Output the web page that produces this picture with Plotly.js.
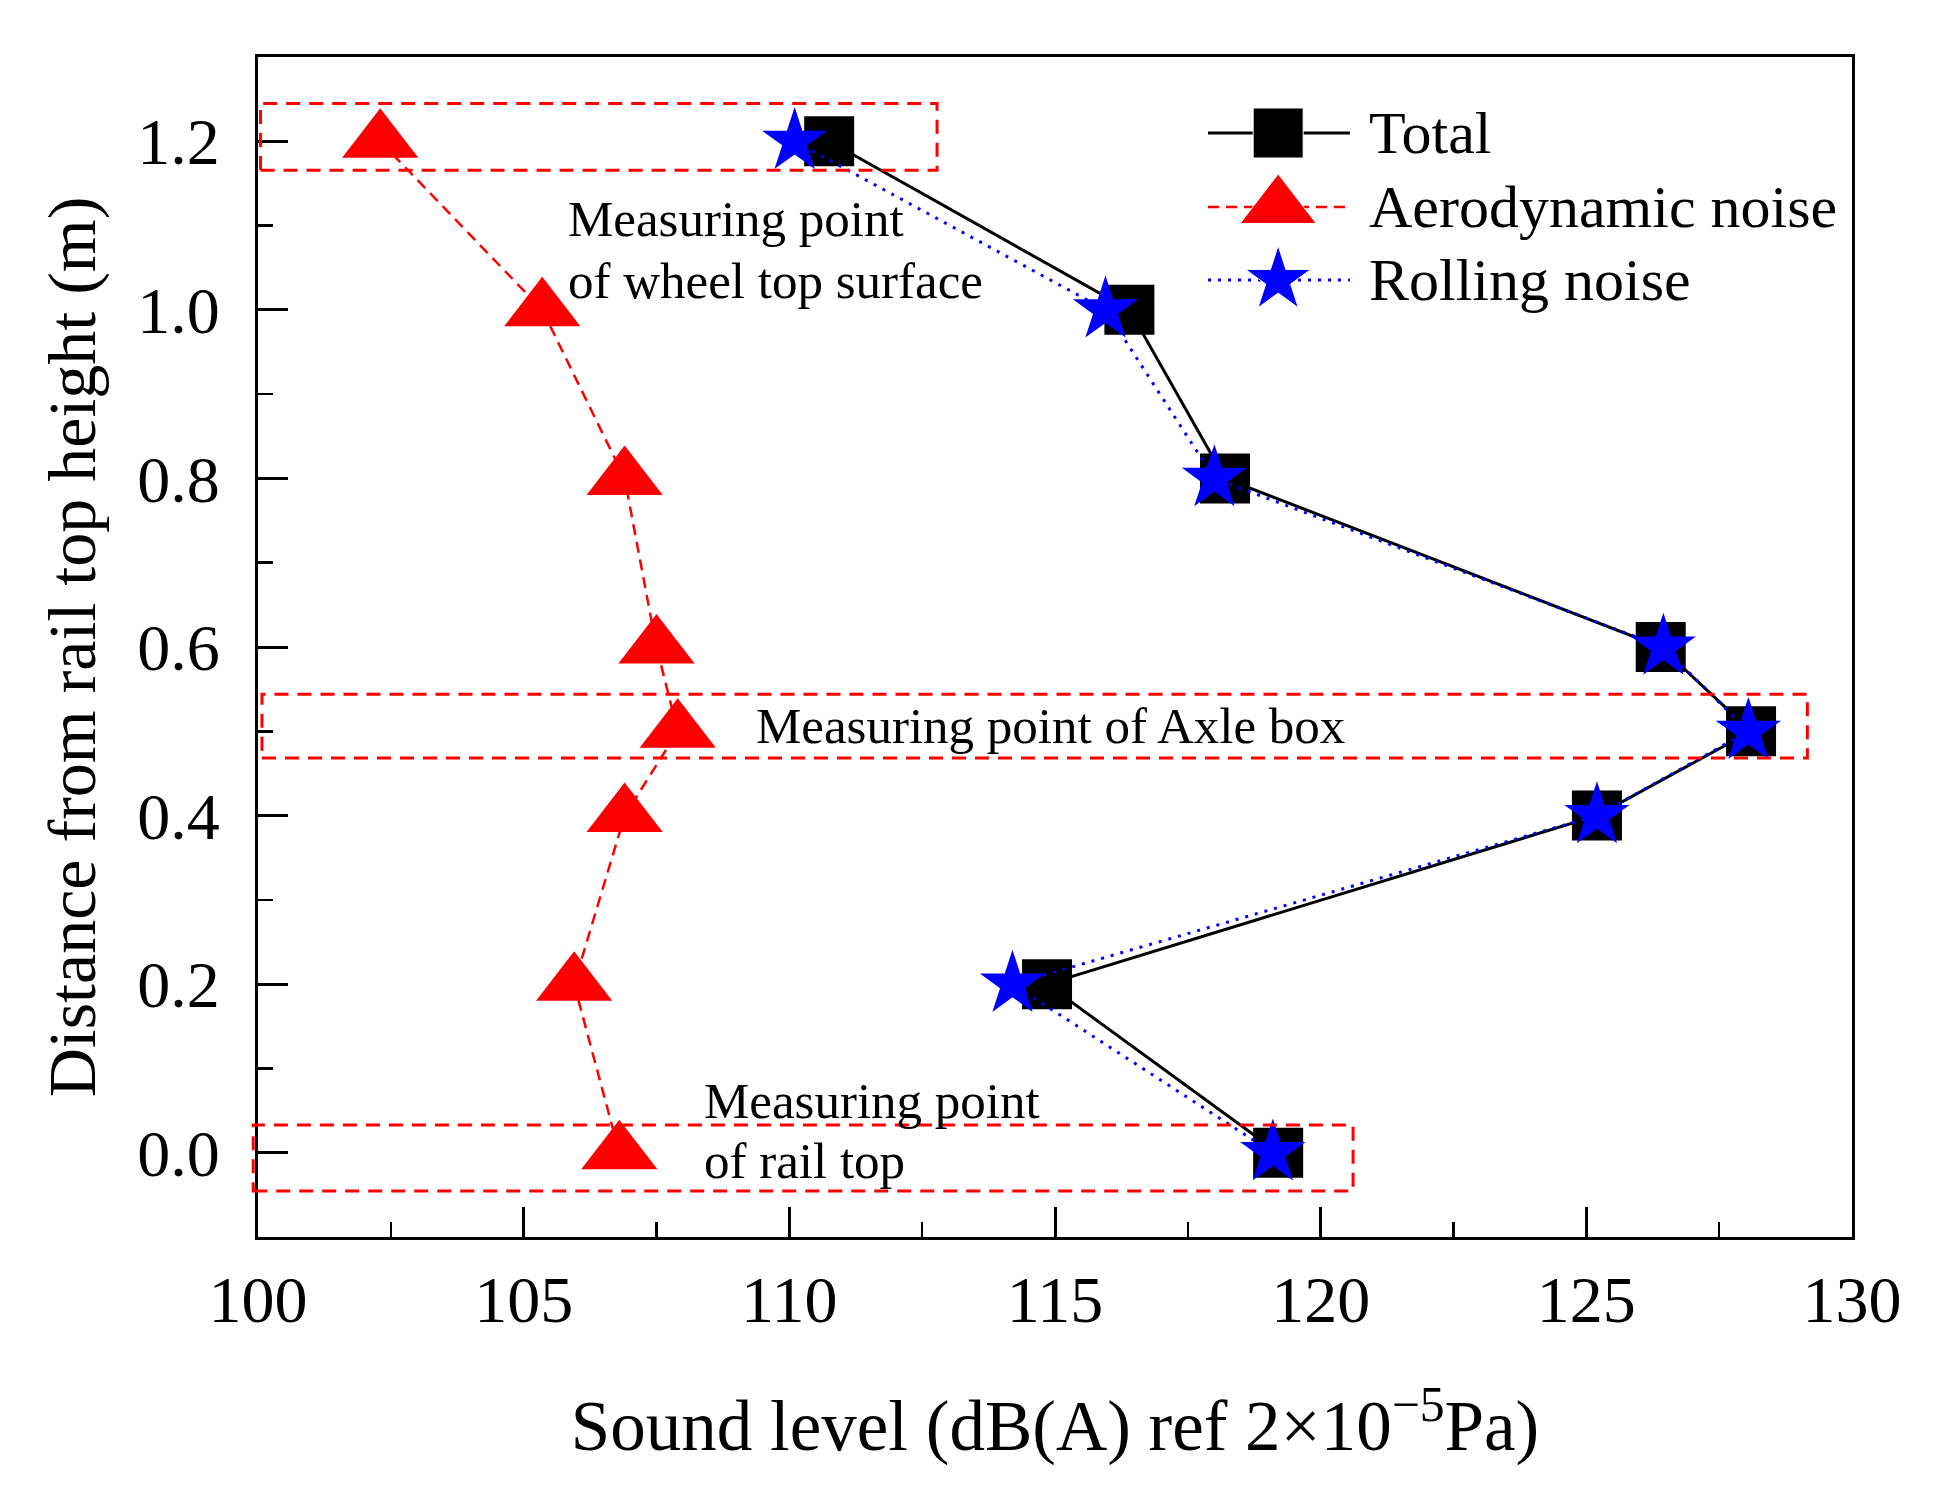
<!DOCTYPE html>
<html>
<head>
<meta charset="utf-8">
<script src="https://cdn.plot.ly/plotly-3.0.1.min.js"></script>
<style>html,body{margin:0;padding:0;background:#fff;}#chart{width:1936px;height:1487px;}</style>
</head>
<body>
<div id="chart"></div>
<script>
// ---- data ----
var heights = [1.2, 1.0, 0.8, 0.6, 0.5, 0.4, 0.2, 0.0];
var totalNoise = [110.75, 116.4, 118.2, 126.4, 128.1, 125.2, 114.85, 119.2];
var aeroNoise = [102.3, 105.35, 106.9, 107.5, 107.9, 106.9, 105.95, 106.8];
var rollingNoise = [110.1, 115.95, 118.0, 126.45, 128.05, 125.2, 114.2, 119.1];
var seriesNames = ["Total", "Aerodynamic noise", "Rolling noise"];
var xTitle = "Sound level (dB(A) ref 2×10<sup>−5</sup>Pa)";
var yTitle = "Distance from rail top height (m)";
var noteWheel = ["Measuring point", "of wheel top surface"];
var noteAxle = ["Measuring point of Axle box"];
var noteRail = ["Measuring point", "of rail top"];

var FONT = '"Liberation Serif", "Times New Roman", serif';

var styles = [
  {line: {color: '#000000', width: 3, dash: 'solid'}, marker: {symbol: 'square', size: 50, color: '#000000', opacity: 1}},
  {line: {color: '#ff0000', width: 2.5, dash: '11px,7px'}, marker: {symbol: 'triangle-up', size: 66, color: '#ff0000', opacity: 1}},
  {line: {color: '#0000ff', width: 3, dash: '3px,7px'}, marker: {symbol: 'star', size: 49, color: '#0000ff', opacity: 1}}
];
var series = [totalNoise, aeroNoise, rollingNoise];

var traces = series.map(function (vals, i) {
  return {
    type: 'scatter', mode: 'lines+markers', name: seriesNames[i],
    x: vals, y: heights,
    line: styles[i].line, marker: styles[i].marker,
    cliponaxis: false, showlegend: false, hoverinfo: 'x+y'
  };
});

// custom legend samples on a hidden overlay axis spanning the plot area (0..1)
var legRows = [0.9356, 0.8729, 0.811];
var legX = [0.596, 0.640, 0.685];
legRows.forEach(function (ry, i) {
  traces.push({
    type: 'scatter', mode: 'lines+markers', xaxis: 'x2', yaxis: 'y2',
    x: legX, y: [ry, ry, ry],
    line: styles[i].line,
    marker: {symbol: styles[i].marker.symbol, color: styles[i].marker.color, opacity: 1,
             size: [0, styles[i].marker.size, 0]},
    cliponaxis: false, showlegend: false, hoverinfo: 'skip'
  });
});

var annotations = [];
function addNote(text, x, y) {
  annotations.push({xref: 'paper', yref: 'paper', x: x, y: y, text: text,
    showarrow: false, xanchor: 'left', yanchor: 'middle',
    font: {family: FONT, size: 51, color: '#000'}});
}
addNote(noteWheel[0], 0.1932, 0.8627);
addNote(noteWheel[1], 0.1932, 0.8102);
addNote(noteAxle[0], 0.311, 0.433);
addNote(noteRail[0], 0.2785, 0.1153);
addNote(noteRail[1], 0.2785, 0.0644);
seriesNames.forEach(function (n, i) {
  annotations.push({xref: 'paper', yref: 'paper', x: 0.6957, y: legRows[i], text: n,
    showarrow: false, xanchor: 'left', yanchor: 'middle',
    font: {family: FONT, size: 60, color: '#000'}});
});

var boxLine = {color: '#ff0000', width: 3, dash: '14px,9px'};
var shapes = [
  {type: 'rect', xref: 'paper', yref: 'paper', x0: 0.0016, x1: 0.426, y0: 0.904, y1: 0.9605, line: boxLine},
  {type: 'rect', xref: 'paper', yref: 'paper', x0: 0.0025, x1: 0.972, y0: 0.406, y1: 0.460, line: boxLine},
  {type: 'rect', xref: 'paper', yref: 'paper', x0: -0.003, x1: 0.687, y0: 0.039, y1: 0.0949, line: boxLine}
];

var layout = {
  width: 1936, height: 1487,
  margin: {l: 258, r: 84, t: 57, b: 250},
  paper_bgcolor: '#fff', plot_bgcolor: '#fff',
  font: {family: FONT, color: '#000'},
  showlegend: false,
  xaxis: {
    range: [100, 130], tick0: 100, dtick: 5,
    ticks: 'inside', ticklen: 30, tickwidth: 3, tickcolor: '#000',
    minor: {ticks: 'inside', ticklen: 15, tickwidth: 2.5, tickcolor: '#000', dtick: 2.5, showgrid: false},
    showline: true, linewidth: 3, linecolor: '#000', mirror: true,
    showgrid: false, zeroline: false,
    tickfont: {family: FONT, size: 66, color: '#000'},
    ticklabelstandoff: 3,
    title: {text: xTitle, font: {family: FONT, size: 71, color: '#000'}, standoff: 66},
    automargin: false
  },
  yaxis: {
    range: [-0.1, 1.3], tick0: 0, dtick: 0.2, tickformat: '.1f',
    ticks: 'inside', ticklen: 30, tickwidth: 3, tickcolor: '#000',
    minor: {ticks: 'inside', ticklen: 15, tickwidth: 2.5, tickcolor: '#000', dtick: 0.1, showgrid: false},
    showline: true, linewidth: 3, linecolor: '#000', mirror: true,
    showgrid: false, zeroline: false,
    tickfont: {family: FONT, size: 66, color: '#000'},
    ticklabelstandoff: 22,
    title: {text: yTitle, font: {family: FONT, size: 68, color: '#000'}, standoff: 20},
    automargin: false
  },
  xaxis2: {overlaying: 'x', anchor: 'y2', range: [0, 1], visible: false, fixedrange: true},
  yaxis2: {overlaying: 'y', anchor: 'x2', range: [0, 1], visible: false, fixedrange: true},
  annotations: annotations,
  shapes: shapes
};

Plotly.newPlot('chart', traces, layout, {displayModeBar: false, staticPlot: true});
</script>
</body>
</html>
